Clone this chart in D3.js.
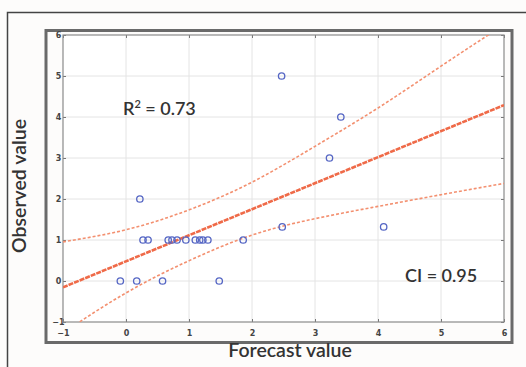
<!DOCTYPE html>
<html>
<head>
<meta charset="utf-8">
<script src="https://cdnjs.cloudflare.com/ajax/libs/d3/7.8.5/d3.min.js"></script>
<style>
  html, body { margin: 0; padding: 0; background: #fdfcfb; }
  svg { display: block; }
</style>
</head>
<body>
<svg id="chart" width="526" height="367"></svg>
<script>
  // observed points (forecast, observed)
  var forecast = [2.47, 3.41, 3.23, 0.22, 2.48, 4.09,
                  0.27, 0.35, 0.67, 0.73, 0.81, 0.95, 1.10, 1.17, 1.22, 1.30, 1.86,
                  -0.09, 0.17, 0.58, 1.48];
  var observed = [5, 4, 3, 2, 1.32, 1.32,
                  1, 1, 1, 1, 1, 1, 1, 1, 1, 1, 1,
                  0, 0, 0, 0];

  // fitted line and 95% band, read at whole forecast values
  var fitX = [-1, 6];
  var fitY = [-0.155, 4.29];
  var bandX = [-1, 0, 1, 2, 3, 4, 5, 6];
  var bandUpper = [0.955, 1.25, 1.735, 2.41, 3.285, 4.22, 5.24, 6.25];
  var bandLower = [-1.265, -0.29, 0.495, 1.12, 1.52, 1.82, 2.105, 2.38];

  var xTicks = [-1, 0, 1, 2, 3, 4, 5, 6];
  var yTicks = [-1, 0, 1, 2, 3, 4, 5, 6];

  var svg = d3.select("#chart");

  var x = d3.scaleLinear().domain([-1, 6]).range([63, 504]),
      y = d3.scaleLinear().domain([-1, 6]).range([322, 35]);

  var textColor = "#333",
      fontFamily = "Lato, 'Open Sans', sans-serif";

  // page frame
  svg.append("path")
      .attr("d", "M7.5,367 V12.5 H526")
      .attr("fill", "none")
      .attr("stroke", "#444")
      .attr("stroke-width", 1.5);

  // outer axis frame
  svg.append("rect")
      .attr("x", 46).attr("y", 30.5)
      .attr("width", 466).attr("height", 312)
      .attr("fill", "#fdfcfb")
      .attr("stroke", "#6a6a6a")
      .attr("stroke-width", 3);

  svg.append("rect")
      .attr("x", x(-1)).attr("y", y(6))
      .attr("width", x(6) - x(-1)).attr("height", y(-1) - y(6))
      .attr("fill", "#fff");

  svg.append("defs").append("clipPath")
      .attr("id", "plot-clip")
    .append("rect")
      .attr("x", x(-1)).attr("y", y(6))
      .attr("width", x(6) - x(-1)).attr("height", y(-1) - y(6));

  // grid
  var grid = svg.append("g").attr("class", "grid");
  grid.selectAll(".gx")
      .data(xTicks.slice(1, -1))
    .enter().append("line")
      .attr("x1", d => x(d)).attr("x2", d => x(d))
      .attr("y1", y(6)).attr("y2", y(-1))
      .attr("stroke", "#e4e4e4");
  grid.selectAll(".gy")
      .data(yTicks.slice(1, -1))
    .enter().append("line")
      .attr("x1", x(-1)).attr("x2", x(6))
      .attr("y1", d => y(d)).attr("y2", d => y(d))
      .attr("stroke", "#e4e4e4");

  // axes drawn with inward ticks on all four sides
  var axisStyle = function(g) {
    g.select(".domain").remove();
    g.selectAll(".tick line").attr("stroke", "#777");
    g.selectAll(".tick text")
        .attr("fill", "#444")
        .style("font", "bold 8px 'DejaVu Sans', sans-serif");
  };

  svg.append("g")
      .attr("transform", "translate(0," + y(-1) + ")")
      .call(d3.axisBottom(x).tickValues(xTicks).tickFormat(d3.format("d")).tickSizeInner(-3).tickPadding(8))
      .call(axisStyle);

  svg.append("g")
      .attr("transform", "translate(" + x(-1) + ",0)")
      .call(d3.axisLeft(y).tickValues(yTicks).tickFormat(d3.format("d")).tickSizeInner(-3).tickPadding(7))
      .call(axisStyle)
      .selectAll(".tick text").attr("text-anchor", "middle").attr("dx", "0.3em");

  svg.append("g")
      .attr("transform", "translate(0," + y(6) + ")")
      .call(d3.axisTop(x).tickValues(xTicks).tickFormat("").tickSizeInner(-3))
      .call(axisStyle);

  svg.append("g")
      .attr("transform", "translate(" + x(6) + ",0)")
      .call(d3.axisRight(y).tickValues(yTicks).tickFormat("").tickSizeInner(-3))
      .call(axisStyle);

  svg.append("rect")
      .attr("x", x(-1)).attr("y", y(6))
      .attr("width", x(6) - x(-1)).attr("height", y(-1) - y(6))
      .attr("fill", "none")
      .attr("stroke", "#8a8a8a")
      .attr("stroke-width", 1.2);

  // regression line and band
  var lines = svg.append("g").attr("clip-path", "url(#plot-clip)");

  var bandLine = d3.line()
      .x((d, i) => x(bandX[i]))
      .y(d => y(d))
      .curve(d3.curveNatural);

  [bandUpper, bandLower].forEach(function(band) {
    lines.append("path")
        .attr("d", bandLine(band))
        .attr("fill", "none")
        .attr("stroke", "#f39070")
        .attr("stroke-width", 1.6)
        .attr("stroke-dasharray", "3,2");
  });

  lines.append("path")
      .attr("d", d3.line().x((d, i) => x(fitX[i])).y(d => y(d))(fitY))
      .attr("fill", "none")
      .attr("stroke", "#ef6a48")
      .attr("stroke-width", 2.6)
      .attr("stroke-dasharray", "5,1");

  // points
  svg.append("g").selectAll("circle")
      .data(forecast)
    .enter().append("circle")
      .attr("cx", d => x(d))
      .attr("cy", (d, i) => y(observed[i]))
      .attr("r", 3.2)
      .attr("fill", "none")
      .attr("stroke", "#5566c4")
      .attr("stroke-width", 1.3);

  // annotations
  var r2 = svg.append("text")
      .attr("x", 123).attr("y", 115)
      .attr("fill", textColor)
      .style("font", "600 18px " + fontFamily);
  r2.append("tspan").text("R");
  r2.append("tspan").attr("dy", -7).style("font-size", "11px").text("2");
  r2.append("tspan").attr("dy", 7).text(" = 0.73");

  svg.append("text")
      .attr("x", 405).attr("y", 282)
      .attr("fill", textColor)
      .style("font", "600 18px " + fontFamily)
      .text("CI = 0.95");

  // axis titles
  svg.append("text")
      .attr("x", 290).attr("y", 357)
      .attr("text-anchor", "middle")
      .attr("fill", textColor)
      .style("font", "600 19.5px " + fontFamily)
      .text("Forecast value");

  svg.append("text")
      .attr("transform", "translate(26,186) rotate(-90)")
      .attr("text-anchor", "middle")
      .attr("fill", textColor)
      .style("font", "600 19.5px " + fontFamily)
      .text("Observed value");
</script>
</body>
</html>
